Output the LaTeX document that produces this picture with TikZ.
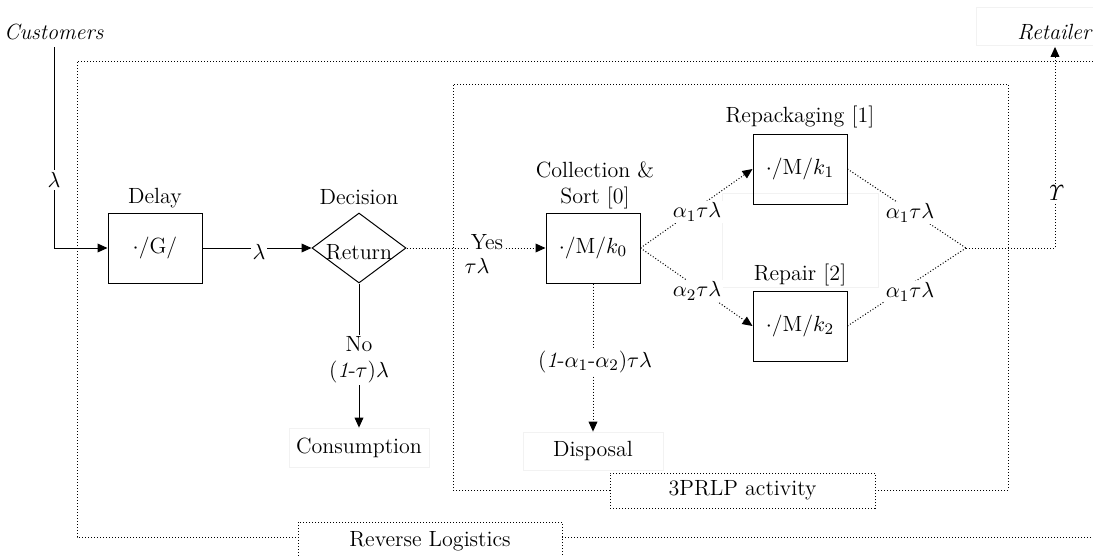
\documentclass[tikz,border=0pt]{standalone}
\usetikzlibrary{arrows.meta,shapes.geometric}
\begin{document}
\begin{tikzpicture}[x=0.5pt,y=-0.5pt, font=\fontsize{11}{13}\selectfont,
  box/.style={draw, line width=0.5pt, minimum width=47pt, minimum height=35pt, inner sep=0pt},
  faint/.style={draw=black!5, line width=0.4pt, inner sep=0pt},
  dots/.style={densely dotted, line width=0.5pt},
  arr/.style={-{Triangle[length=5pt,width=4.4pt]}},
  lab/.style={fill=white, inner sep=1pt},
  solidline/.style={line width=0.5pt}]
\useasboundingbox (0,0) rectangle (1093,557);
\clip (0,0) rectangle (1093,557);

% outer frame: Reverse Logistics
\draw[dots] (1093,61) -- (77,61) -- (77,537) -- (298,537);
\draw[dots] (562,537) -- (1093,537);
\node[draw, dots, minimum width=132pt, minimum height=19.5pt, inner sep=0pt] (rl) at (430,541.5) {Reverse Logistics};

% inner frame: 3PRLP activity
\draw[dots] (610,490) -- (453,490) -- (453,84) -- (1008,84) -- (1008,490) -- (875,490);
\node[draw, dots, minimum width=132.5pt, minimum height=17.5pt, inner sep=0pt] (pl) at (742.5,490.5) {3PRLP activity};

% faint boxes
\draw[faint] (976,7) rectangle (1100,45);
\draw[faint] (722,193) rectangle (878,287);

% nodes
\node (cust) at (54,32) {\textit{Customers}};
\node (ret) at (1055,32) {\textit{Retailer}};
\node[box] (delay) at (155,248) {$\cdot$/G/};
\node (delayl) at (155,198) {Delay};
\node[draw, diamond, line width=0.5pt, minimum width=47pt, minimum height=35pt, inner sep=0pt] (dec) at (359,248) {};
\node (dect) at (359,252) {Return};
\node (decl) at (359,197) {Decision};
\node[faint, minimum width=70pt, minimum height=19.5pt] (cons) at (359,447.5) {Consumption};
\node[box] (coll) at (593,248) {$\cdot$/M/$k_0$};
\node[align=center] (colll) at (595,185) {Collection \&\\Sort [0]};
\node[box] (rep1) at (800,169) {$\cdot$/M/$k_1$};
\node (rep1l) at (800,117) {Repackaging [1]};
\node[box] (rep2) at (800,326) {$\cdot$/M/$k_2$};
\node (rep2l) at (800,275) {Repair [2]};
\node[faint, minimum width=70pt, minimum height=19pt] (disp) at (593,451) {Disposal};
\coordinate (m) at (966,248);
\coordinate (c1) at (54,248);
\coordinate (c2) at (1055,248);

% connectors
\draw[solidline, arr] (cust.south) -- (c1) -- (delay.west);
\node[lab] at (54,180) {$\lambda$};
\draw[solidline, arr] (delay.east) -- (dec.west);
\node[lab] at (259,252) {$\lambda$};
\draw[solidline, arr] (dec.south) -- (cons.north);
\node[lab, align=center] at (359,360) {No\\(\textit{1}-$\tau$)$\lambda$};
\draw[dots, arr] (dec.east) -- (coll.west);
\node[lab] at (487,242) {Yes};
\node at (477,266) {$\tau\lambda$};
\draw[dots, arr] (coll.east) -- (rep1.west);
\draw[dots, arr] (coll.east) -- (rep2.west);
\node[lab] at (697,212) {$\alpha_1\tau\lambda$};
\node[lab] at (697,291) {$\alpha_2\tau\lambda$};
\draw[dots] (rep1.east) -- (m);
\draw[dots] (rep2.east) -- (m);
\node[lab] at (910,213) {$\alpha_1\tau\lambda$};
\node[lab] at (910,292) {$\alpha_1\tau\lambda$};
\draw[dots, arr] (m) -- (c2) -- (ret.south);
\node[lab] at (1055,193) {$\mathit{\Upsilon}$};
\draw[dots, arr] (coll.south) -- (disp.north);
\node[lab] at (595,362) {(\textit{1}-$\alpha_1$-$\alpha_2$)$\tau\lambda$};
\end{tikzpicture}
\end{document}
